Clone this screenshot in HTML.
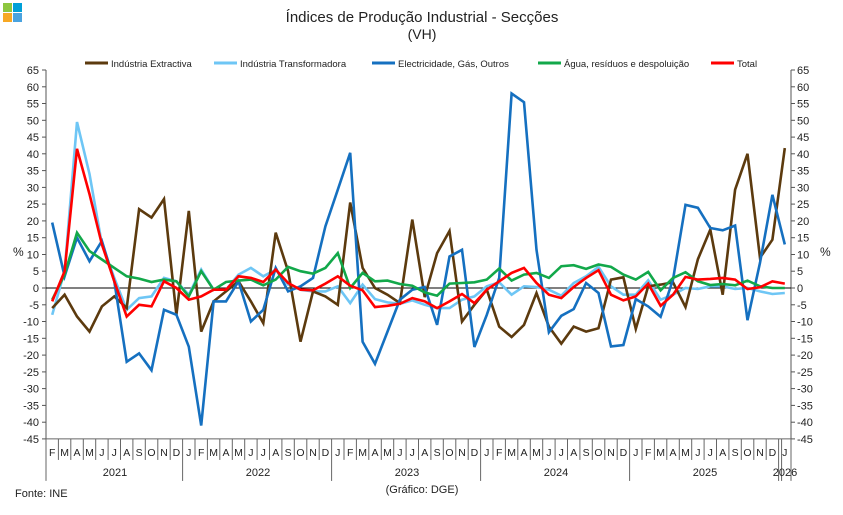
<!DOCTYPE html>
<html><head><meta charset="utf-8"><style>
body{margin:0;background:#fff;width:843px;height:510px;overflow:hidden}
svg{font-family:"Liberation Sans",sans-serif}
</style></head><body>
<svg id="c" width="843" height="510" xmlns="http://www.w3.org/2000/svg">
<rect x="3" y="3" width="9" height="9" fill="#8dc63f"/><rect x="13" y="3" width="9" height="9" fill="#00a0d8"/>
<rect x="3" y="13" width="9" height="9" fill="#f7a823"/><rect x="13" y="13" width="9" height="9" fill="#4aa3df"/>
<text x="422" y="22" font-size="15" text-anchor="middle" fill="#222">Índices de Produção Industrial - Secções</text>
<text x="422" y="39" font-size="14" text-anchor="middle" fill="#222">(VH)</text>
<g font-size="9.5" fill="#222">
<line x1="85" y1="63" x2="108" y2="63" stroke="#5c3a0e" stroke-width="3"/><text x="111" y="67">Indústria Extractiva</text>
<line x1="214" y1="63" x2="237" y2="63" stroke="#6ec6f5" stroke-width="3"/><text x="240" y="67">Indústria Transformadora</text>
<line x1="372" y1="63" x2="395" y2="63" stroke="#1570c0" stroke-width="3"/><text x="398" y="67">Electricidade, Gás, Outros</text>
<line x1="538" y1="63" x2="561" y2="63" stroke="#12a84a" stroke-width="3"/><text x="564" y="67">Água, resíduos e despoluição</text>
<line x1="711" y1="63" x2="734" y2="63" stroke="#f00" stroke-width="3"/><text x="737" y="67">Total</text>
</g>
<g id="ax"></g>
<text x="13" y="256" font-size="12" fill="#222">%</text>
<text x="820" y="256" font-size="12" fill="#222">%</text>
<text x="15" y="497" font-size="11" fill="#222">Fonte: INE</text>
<text x="422" y="493" font-size="11" text-anchor="middle" fill="#222">(Gráfico: DGE)</text>
</svg>
<script>
var L=46,R=791,Z=288,S=3.354,W=(R-L)/60;
function X(i){return L+(i+.5)*W}function Y(v){return Z-v*S}
var h='';
for(var v=-45;v<=65;v+=5){var y=Y(v).toFixed(1);
h+='<line x1="42" y1="'+y+'" x2="46" y2="'+y+'" stroke="#555"/><line x1="791" y1="'+y+'" x2="795" y2="'+y+'" stroke="#555"/>';
h+='<text x="39" y="'+(+y+4)+'" font-size="11" text-anchor="end" fill="#222">'+v+'</text>';
h+='<text x="797" y="'+(+y+4)+'" font-size="11" fill="#222">'+v+'</text>';}
h+='<line x1="46" y1="'+Y(65)+'" x2="46" y2="'+Y(-45)+'" stroke="#555"/><line x1="791" y1="'+Y(65)+'" x2="791" y2="'+Y(-45)+'" stroke="#555"/>';
h+='<line x1="46" y1="'+Z+'" x2="791" y2="'+Z+'" stroke="#000"/>';
var yb=Y(-45);
h+='<line x1="46" y1="'+yb+'" x2="791" y2="'+yb+'" stroke="#666"/>';
var m='FMAMJJASONDJ'.split('');
for(var i=0;i<60;i++){h+='<text x="'+X(i).toFixed(1)+'" y="'+(yb+17)+'" font-size="10.5" text-anchor="middle" fill="#222">'+m[i%12]+'</text>';}
for(var i=0;i<=60;i++){var x=(L+i*W).toFixed(1);var yr=(i%12==11||i==60||i==0);
h+='<line x1="'+x+'" y1="'+yb+'" x2="'+x+'" y2="'+(yr?yb+42:yb+21)+'" stroke="#666"/>';}
h+='<line x1="'+(L+59*W+3)+'" y1="'+yb+'" x2="'+(L+59*W+3)+'" y2="'+(yb+42)+'" stroke="#666"/>';
var yrs=[[115,'2021'],[258,'2022'],[407,'2023'],[556,'2024'],[705,'2025'],[785,'2026']];
yrs.forEach(function(a){h+='<text x="'+a[0]+'" y="'+(yb+37)+'" font-size="11" text-anchor="middle" fill="#222">'+a[1]+'</text>'});
var D={
"#6ec6f5":[-8,5,49.5,34,13,3,-6.5,-3,-2.5,3,2,-2,5.5,-0.5,-0.5,4,6,3.5,5.5,1,-0.5,-1,-1,0.5,-4.5,1,-3.3,-4.3,-4.7,-3.7,-5,-6,-6,-3.5,-2.5,0.5,1.7,-2,0.5,0.3,-0.5,-2.3,1.5,3.5,6.3,0.5,-2,-2,2.3,-3.5,-2,0,-0.3,0.5,0.5,-0.3,0,-1,-1.8,-1.5],
"#5c3a0e":[-6,-2,-8.5,-13,-5.5,-2.5,-6,23.5,21,26.5,-8,23,-13,-4,-1,2,-4,-10.5,16.5,5,-16,-1,-2.5,-5,25.5,6,0,-2,-4.5,20.4,-2.7,10.4,17,-10,-5,-0.5,-11.5,-14.6,-11,-1.5,-11.5,-16.6,-11.5,-13,-12,2.5,3.2,-12.2,0.5,1,1.7,-5.7,8.6,17.4,-2,29.3,40,9,14.4,41.7],
"#1570c0":[19.5,3.5,15,8,14,2,-22,-19.5,-24.5,-6.5,-8,-17.5,-41,-4,-4,2,-10,-6.5,6,-1,0.5,3,18.4,29.3,40.3,-16,-22.6,-13,-3.5,-0.5,0.3,-11,9.4,11.4,-17.6,-8,3,58,55.4,11.4,-13.2,-8.3,-6.3,1.5,-1.5,-17.4,-17,-3.3,-5.5,-8.6,2.5,24.8,23.9,17.9,17.2,18.6,-9.6,7.5,27.8,13],
"#12a84a":[-3.5,4,16.5,11,8.5,6,3.5,2.8,1.8,2.5,2,-2.5,5,-0.5,1.8,2.2,2.5,0.8,2.5,6.3,5,4.3,6,10.4,0,4.5,2,2.2,1.2,0.7,-1.3,-2.3,1.3,1.5,1.7,2.5,5.8,2.2,4,4.5,3,6.5,6.8,5.7,7,6.3,4,2.5,4.8,-0.7,3,4.7,2,0.9,1.2,0.8,2.2,0.5,0,0],
"#ff0000":[-4,5,41.5,28,13,2,-8.5,-5,-5.5,2,0,-3.5,-2.5,-0.5,-0.5,3.5,3,1.8,5.5,1.5,-0.5,-0.7,1.3,3.5,0.7,-0.7,-5.7,-5.3,-4.7,-3,-4,-6,-4,-1.8,-4.5,-0.5,2,4.5,6,1.5,-2,-3,0.3,3,5.3,-2,-3.7,-2.5,1.3,-5.3,-2,3.3,2.5,2.7,3,2.5,-0.3,0.2,2,1.3]};
for(var c in D){var p=D[c].map(function(v,i){return X(i).toFixed(1)+','+Y(v).toFixed(1)}).join(' ');
h+='<polyline points="'+p+'" fill="none" stroke="'+c+'" stroke-width="2.6" stroke-linejoin="miter"/>';}
document.getElementById('ax').innerHTML=h;
</script>
</body></html>
